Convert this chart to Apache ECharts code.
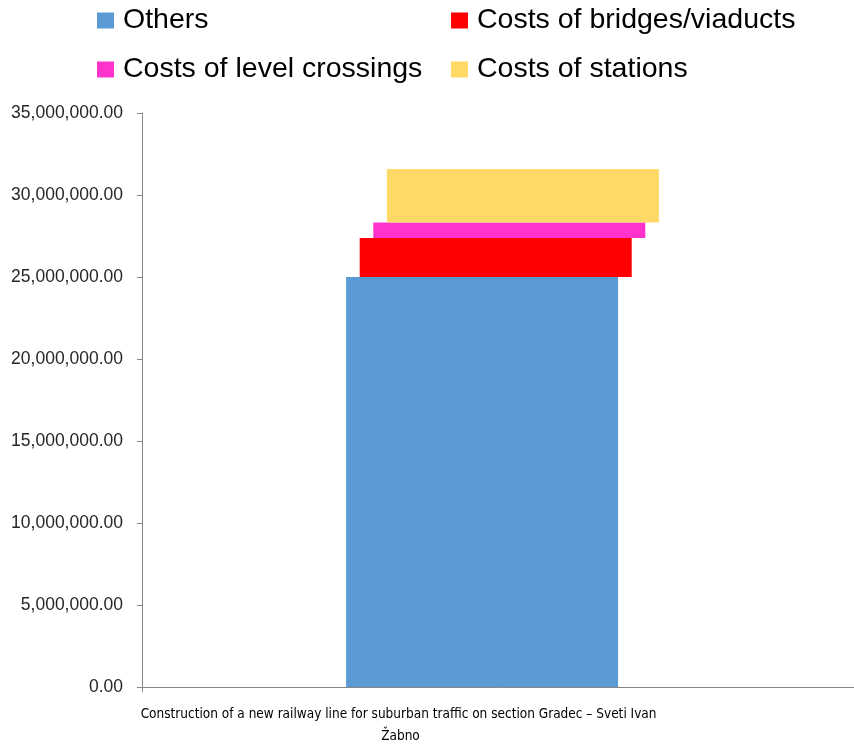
<!DOCTYPE html>
<html>
<head>
<meta charset="utf-8">
<script src="https://cdn.jsdelivr.net/npm/echarts@6/dist/echarts.min.js"></script>
<style>
  html, body { margin: 0; padding: 0; background: #fff; }
  #chart { width: 854px; height: 747px; }
</style>
</head>
<body>
<div id="chart"></div>
<script>
// Project cost breakdown (values in currency units)
const categories = ['Construction of a new railway line for suburban traffic on section Gradec \u2013 Sveti Ivan \u017dabno'];
const seriesNames = ['Others', 'Costs of bridges/viaducts', 'Costs of level crossings', 'Costs of stations'];
const others = [25000000];
const bridges = [2380000];
const crossings = [950000];
const stations = [3260000];
const colors = ['#5b9bd5', '#ff0000', '#ff33cc', '#ffd966'];

const parts = [others, bridges, crossings, stations];
const FONT = '"Liberation Sans", Arial, sans-serif';
const NARROW = '"Liberation Sans Narrow", "DejaVu Sans Condensed", "Roboto Condensed", "Liberation Sans", sans-serif';

// Each segment sits in its own stack lane so successive layers step to the right;
// an invisible base lifts each layer to the running total beneath it.
const series = [];
parts.forEach((data, i) => {
  const lane = 'lane' + i;
  if (i > 0) {
    const base = data.map((_, k) => parts.slice(0, i).reduce((s, arr) => s + arr[k], 0));
    series.push({
      type: 'bar', name: '_base' + i, stack: lane, data: base,
      itemStyle: { color: 'transparent' }, silent: true,
      barWidth: 272, barGap: '-95%'
    });
  }
  series.push({
    type: 'bar', name: seriesNames[i], stack: lane, data: data,
    itemStyle: { color: colors[i] },
    barWidth: 272, barGap: '-95%'
  });
});

const legendText = { fontSize: 28.5, color: '#000', fontFamily: FONT, padding: [0, 0, 0, 4] };
const chart = echarts.init(document.getElementById('chart'), null, { renderer: 'canvas' });
chart.setOption({
  animation: false,
  color: colors,
  legend: [
    {
      data: [seriesNames[0], seriesNames[2]], orient: 'vertical',
      left: 95, top: 4, itemWidth: 17, itemHeight: 16, itemGap: 20, padding: 2,
      icon: 'rect', textStyle: legendText
    },
    {
      data: [seriesNames[1], seriesNames[3]], orient: 'vertical',
      left: 449, top: 4, itemWidth: 17, itemHeight: 16, itemGap: 20, padding: 2,
      icon: 'rect', textStyle: legendText
    }
  ],
  grid: { left: 142, right: -9, top: 113, bottom: 60, containLabel: false, outerBoundsMode: 'none' },
  xAxis: {
    type: 'category', data: categories,
    axisLine: { lineStyle: { color: '#868686', width: 1 } },
    axisTick: { show: true, length: 5, lineStyle: { color: '#868686' } },
    axisLabel: {
      color: '#000', fontSize: 13.5, fontFamily: NARROW, margin: 16,
      width: 530, overflow: 'break', lineHeight: 22,
      padding: [0, 204, 0, 0]
    }
  },
  yAxis: {
    type: 'value', min: 0, max: 35000000, interval: 5000000,
    axisLine: { show: true, lineStyle: { color: '#868686', width: 1 } },
    axisTick: { show: true, length: 5, lineStyle: { color: '#868686' } },
    splitLine: { show: false },
    axisLabel: {
      color: '#262626', fontSize: 17.5, fontFamily: FONT, margin: 19,
      formatter: v => v.toLocaleString('en-US', { minimumFractionDigits: 2, maximumFractionDigits: 2 })
    }
  },
  series: series
});
</script>
</body>
</html>
